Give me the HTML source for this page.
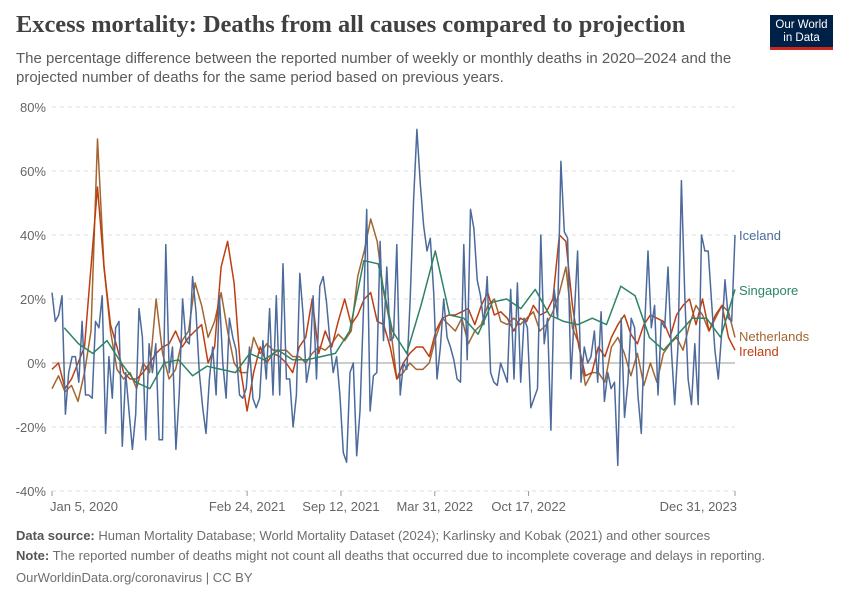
<!DOCTYPE html>
<html><head><meta charset="utf-8">
<style>
body{margin:0;background:#fff;font-family:"Liberation Sans",sans-serif;}
#wrap{position:relative;width:850px;height:600px;overflow:hidden;}
.title{position:absolute;left:16px;top:11px;font-family:"Liberation Serif",serif;font-weight:bold;font-size:24.4px;color:#404040;}
.sub{position:absolute;left:16px;top:49px;width:730px;font-size:15px;line-height:19px;color:#5b5b5b;}
.logo{position:absolute;left:770px;top:15px;width:63px;height:35px;background:#002147;color:#fff;font-size:11.5px;line-height:13px;text-align:center;padding-top:4px;box-sizing:border-box;border-bottom:3px solid #ce261e;}
.foot{position:absolute;left:16px;font-size:13px;color:#6e6e6e;}
.foot b{color:#555;}
</style></head><body>
<div id="wrap">
<div class="title">Excess mortality: Deaths from all causes compared to projection</div>
<div class="sub">The percentage difference between the reported number of weekly or monthly deaths in 2020–2024 and the projected number of deaths for the same period based on previous years.</div>
<div class="logo">Our World<br>in Data</div>
<svg id="chart" width="850" height="600" style="position:absolute;left:0;top:0"></svg>
<div class="foot" style="top:528px"><b>Data source:</b> Human Mortality Database; World Mortality Dataset (2024); Karlinsky and Kobak (2021) and other sources</div>
<div class="foot" style="top:548px"><b>Note:</b> The reported number of deaths might not count all deaths that occurred due to incomplete coverage and delays in reporting.</div>
<div class="foot" style="top:570px">OurWorldinData.org/coronavirus | CC BY</div>
</div>
<script>
const yTicks=[80,60,40,20,0,-20,-40];
const xTickLabels=["Jan 5, 2020","Feb 24, 2021","Sep 12, 2021","Mar 31, 2022","Oct 17, 2022","Dec 31, 2023"];
const xTickDates=["2020-01-05","2021-02-24","2021-09-12","2022-03-31","2022-10-17","2023-12-31"];
const iceland=[22,13,15,21,-16,-3,2,2,-6,13,-10,-10,-11,13,11,21,-22,2,-11,11,13,-26,-3,-15,-27,-16,17,8,-24,6,-3,6,-24,-24,37,-3,5,-27,-10,20,7,6,27,16,-3,-14,-22,-5,5,-10,21,0,-11,14,8,4,-10,-11,-8,5,-11,-14,-11,7,-5,17,-10,21,-10,31,-5,-5,-20,-10,28,15,-6,0,21,-5,24,27,19,7,-3,2,-10,-28,-31,-3,0,-29,-15,16,48,-15,-4,-3,38,7,30,7,8,37,-10,0,-2,20,51,73,56,43,35,39,22,-5,5,20,8,5,1,-5,-6,37,1,48,42,26,21,12,27,-3,-6,-7,0,-3,-6,23,-5,25,-6,14,11,-14,-11,-8,40,6,14,-21,23,14,63,41,39,-5,15,35,-6,5,0,2,10,-6,16,-12,-3,-8,-6,-32,14,-17,-6,14,11,-10,-22,11,35,11,18,-10,13,11,30,4,-13,6,57,21,-5,-13,6,-13,40,35,35,19,4,-5,9,26,14,13,40];
const netherlands=[-8,-4,-9,-7,-12,-3,10,70,30,10,-2,-5,-3,-8,0,-3,20,3,-5,-2,7,10,25,18,8,13,22,10,0,-3,-3,8,3,6,4,4,4,2,2,0,3,5,4,6,9,7,10,27,35,45,38,22,12,-5,-3,0,-2,-2,0,8,14,12,10,14,6,10,12,18,20,13,12,14,12,14,16,10,12,16,22,30,11,6,-7,-3,-3,-6,5,8,3,-4,3,-7,0,-6,3,6,8,4,12,18,15,10,14,18,16,8];
const ireland=[-2,0,-8,-5,0,5,30,55,30,12,5,-3,-5,-5,-3,0,3,5,6,10,5,8,10,12,0,5,30,38,25,-2,-15,-3,5,0,3,2,0,-3,5,8,20,3,10,5,13,20,12,15,20,22,13,12,5,-5,0,3,5,5,2,10,14,15,15,16,17,12,18,22,15,16,14,10,14,13,18,15,16,20,40,38,18,5,-4,-3,5,2,8,12,15,9,6,12,15,14,13,8,15,18,20,12,20,10,15,18,8,4];
const singapore=[11,6,3,7,0,-6,-8,0,1,-4,-1,-2,-3,3,1,4,1,1,2,3,10,32,31,10,3,18,35,15,14,9,19,20,17,23,15,13,12,14,12,24,21,8,4,9,14,14,8,23];

const svg=document.getElementById('chart');const NS='http://www.w3.org/2000/svg';
const X0=52,X1=735,Y0=363,PX=3.2;
const D0=Date.parse("2020-01-05"),D1=Date.parse("2023-12-31");
function xs(t){return X0+(t-D0)/(D1-D0)*(X1-X0);}
function ys(v){return Y0-v*PX;}
function mk(tag,attrs){const e=document.createElementNS(NS,tag);for(const k in attrs)e.setAttribute(k,attrs[k]);svg.appendChild(e);return e;}
yTicks.forEach(v=>{
  const l=mk('line',{x1:X0,x2:X1,y1:ys(v),y2:ys(v),stroke:v===0?'#bbb':'#ddd','stroke-width':v===0?1.5:1,'stroke-dasharray':v===0?'none':'4,4'});
  
  
  const t=mk('text',{x:46,y:ys(v)+5,'text-anchor':'end','font-size':13,fill:'#666','font-family':'Liberation Sans, sans-serif'});
  t.textContent=v+'%';
  
  
});
xTickDates.forEach((d,i)=>{
  const x=xs(Date.parse(d));
  const l=mk('line',{x1:x,x2:x,y1:491,y2:496,stroke:'#999'});
  
  
  const anchor=i===0?'start':(i===xTickDates.length-1?'end':'middle');
  const t=mk('text',{x:i===0?x-2:(i===xTickDates.length-1?x+2:x),y:511,'text-anchor':anchor,'font-size':13,fill:'#666','font-family':'Liberation Sans, sans-serif'});
  t.textContent=xTickLabels[i];
  
  
});
function series(vals,startDate,color,name){
  const s=Date.parse(startDate);
  const pts=vals.map((v,i)=>xs(s+(D1-s)*i/(vals.length-1)).toFixed(1)+','+ys(v).toFixed(1)).join(' ');
  const p=mk('polyline',{points:pts,fill:'none',stroke:color,'stroke-width':1.5,'stroke-linejoin':'round'});
  
  
}
series(netherlands,"2020-01-05",'#A2662E','netherlands-line');
series(ireland,"2020-01-05",'#BE3E12','ireland-line');
series(iceland,"2020-01-05",'#4C6A9C','iceland-line');
series(singapore,"2020-01-31",'#2C8465','singapore-line');
const labels=[['Iceland',240,'#4C6A9C','legend-iceland'],['Singapore',295,'#2C8465','legend-singapore'],['Netherlands',341,'#A2662E','legend-netherlands'],['Ireland',356,'#BE3E12','legend-ireland']];
labels.forEach(a=>{
  const t=mk('text',{x:739,y:a[1],'font-size':13,fill:a[2],'font-family':'Liberation Sans, sans-serif'});
  t.textContent=a[0];
  
  
});
</script>
</body></html>
